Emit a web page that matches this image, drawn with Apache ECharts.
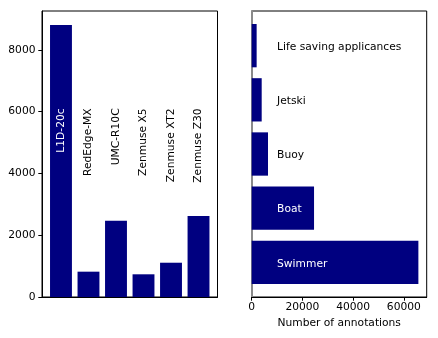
<html lang="en">

<head>
    <meta charset="UTF-8">
    <title>Annotations</title>
    <script src="https://cdn.jsdelivr.net/npm/echarts@6/dist/echarts.min.js"></script>
    <style>
        html, body { margin: 0; padding: 0; background: #fff; }
        #chart { width: 438px; height: 338px; }
    </style>
</head>

<body>
    <div id="chart"></div>

    <script>
        // left panel: images per camera
        var cameras = ['L1D-20c', 'RedEdge-MX', 'UMC-R10C', 'Zenmuse X5', 'Zenmuse XT2', 'Zenmuse Z30'];
        var cameraCounts = [8810, 820, 2470, 735, 1110, 2620];
        var cameraTicks = [0, 2000, 4000, 6000, 8000];

        // right panel: annotations per class (bottom to top)
        var classes = ['Swimmer', 'Boat', 'Buoy', 'Jetski', 'Life saving applicances'];
        var classCounts = [65720, 24580, 6430, 3940, 1950];
        var classTicks = [0, 20000, 40000, 60000];

        var navy = '#000080';
        var font = 'DejaVu Sans';
        var fs = 10.7;
        var whiteLabels = ['L1D-20c', 'Swimmer', 'Boat'];
        var camLabelAt = 6010;   // where the rotated camera names end
        var classLabelAt = 10000; // where the class names start

        var chartDom = document.getElementById('chart');
        var myChart = echarts.init(chartDom, null, { renderer: 'canvas' });
        var option;

        var labelStyle = { color: '#000', fontFamily: font, fontSize: fs };
        var plain = function (v) { return String(v); };

        option = {
            animation: false,
            backgroundColor: '#fff',
            grid: [
                { left: 42, top: 11, width: 175.5, height: 286, show: true, borderColor: '#000', borderWidth: 1, backgroundColor: 'transparent' },
                { left: 251.7, top: 11, width: 175, height: 286, show: true, borderColor: '#000', borderWidth: 1, backgroundColor: 'transparent' },
                { left: 251.7, top: 18.58, width: 175, height: 270.85, show: false }
            ],
            xAxis: [
                {
                    gridIndex: 0, type: 'value', min: -0.69, max: 5.69,
                    axisLine: { show: true, onZero: false, lineStyle: { color: '#000', width: 1 } },
                    axisTick: { show: false }, axisLabel: { show: false }, splitLine: { show: false }
                },
                {
                    gridIndex: 1, type: 'value', min: 0, max: 69000,
                    axisLine: { show: true, onZero: false, lineStyle: { color: '#000', width: 1 } },
                    axisTick: { show: true, length: 3.7, customValues: classTicks, lineStyle: { color: '#000' } },
                    axisLabel: Object.assign({ margin: 4.5, customValues: classTicks, formatter: plain }, labelStyle),
                    splitLine: { show: false },
                    name: 'Number of annotations', nameLocation: 'middle', nameGap: 21,
                    nameTextStyle: labelStyle
                },
                {
                    gridIndex: 2, type: 'value', min: 0, max: 69000, show: false
                }
            ],
            yAxis: [
                {
                    gridIndex: 0, type: 'value', min: 0, max: 9261,
                    axisLine: { show: true, onZero: false, lineStyle: { color: '#000', width: 1 } },
                    axisTick: { show: true, length: 3.7, customValues: cameraTicks, lineStyle: { color: '#000' } },
                    axisLabel: Object.assign({ margin: 6.5, customValues: cameraTicks, formatter: plain }, labelStyle),
                    splitLine: { show: false }
                },
                {
                    gridIndex: 1, type: 'value', min: 0, max: 1,
                    axisLine: { show: true, onZero: false, lineStyle: { color: '#8a8a8a', width: 2 } },
                    axisTick: { show: false }, axisLabel: { show: false }, splitLine: { show: false }
                },
                {
                    gridIndex: 2, type: 'category', data: classes, show: false
                }
            ],
            series: [
                {
                    type: 'bar', xAxisIndex: 0, yAxisIndex: 0,
                    barWidth: 21.9,
                    itemStyle: { color: navy },
                    data: cameras.map(function (c, i) { return [i, cameraCounts[i]]; })
                },
                {
                    type: 'scatter', xAxisIndex: 0, yAxisIndex: 0, z: 5,
                    symbolSize: 1, itemStyle: { color: 'transparent' }, silent: true,
                    data: cameras.map(function (c, i) {
                        return {
                            value: [i, camLabelAt],
                            label: { color: whiteLabels.indexOf(c) >= 0 ? '#fff' : '#000' }
                        };
                    }),
                    label: {
                        show: true, position: 'inside', rotate: 90, align: 'right', verticalAlign: 'middle',
                        offset: [3, 0], fontFamily: font, fontSize: fs, textBorderWidth: 0, opacity: 1,
                        formatter: function (p) { return cameras[p.dataIndex]; }
                    }
                },
                {
                    type: 'bar', xAxisIndex: 2, yAxisIndex: 2,
                    barWidth: 43.3,
                    itemStyle: { color: navy },
                    data: classCounts
                },
                {
                    type: 'scatter', xAxisIndex: 2, yAxisIndex: 2, z: 5,
                    symbolSize: 1, itemStyle: { color: 'transparent' }, silent: true,
                    data: classes.map(function (c, i) {
                        return {
                            value: [classLabelAt, c],
                            label: { color: whiteLabels.indexOf(c) >= 0 ? '#fff' : '#000' }
                        };
                    }),
                    label: {
                        show: true, position: 'inside', align: 'left', verticalAlign: 'middle',
                        offset: [0, 1.5], fontFamily: font, fontSize: fs, textBorderWidth: 0, opacity: 1,
                        formatter: function (p) { return classes[p.dataIndex]; }
                    }
                }
            ]
        };

        option && myChart.setOption(option);
    </script>
</body>

</html>
